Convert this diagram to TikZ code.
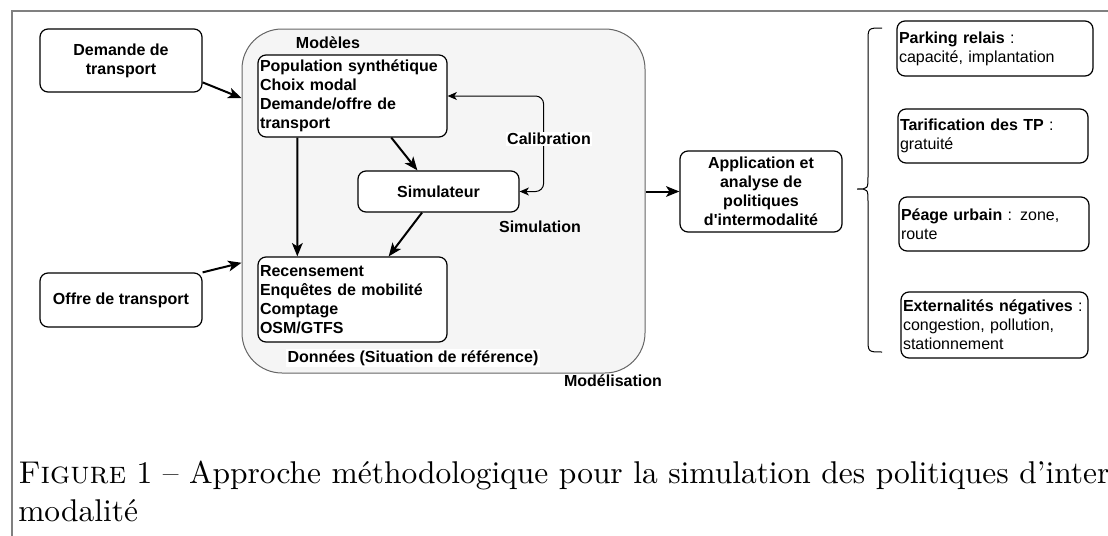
\documentclass[tikz,border=0pt]{standalone}
\usepackage{fontspec}
\usepackage{tikz}
\usetikzlibrary{arrows.meta}
\newfontfamily\drawfont{Liberation Sans}
\newfontfamily\capfont{lmroman10-regular.otf}[SmallCapsFont=lmromancaps10-regular.otf]
\definecolor{framegray}{RGB}{128,128,128}
\definecolor{panelgray}{RGB}{245,245,245}
\definecolor{edgegray}{RGB}{102,102,102}
\newcommand{\diafont}{\drawfont\fontsize{12}{14.25}\selectfont}

\begin{document}
\begin{tikzpicture}[x=0.75pt,y=-0.75pt,font=\diafont,
    box/.style={draw, fill=white, line width=0.9pt, rounded corners=6pt, inner xsep=1.5pt, inner ysep=0pt},
    leftbox/.style={box, align=left},
    midbox/.style={box, align=center, font=\diafont\bfseries},
    lbl/.style={font=\diafont\bfseries, inner sep=1pt},
    arr/.style={line width=1.5pt, -{Stealth[length=10pt,width=8pt,inset=2.5pt]}},
    calarr/.style={line width=0.75pt, rounded corners=6pt, {Stealth[length=7pt,width=6pt,inset=2pt]}-{Stealth[length=7pt,width=6pt,inset=2pt]}}]
    \useasboundingbox (0,0) rectangle (1108,536);

    % Frame
    \draw[framegray, line width=1.5pt] (12,536) -- (12,11) -- (1108,11);

    % Inputs
    \node[midbox, minimum width=121.5pt, minimum height=47.25pt] (demande) at (121,60.5) {Demande de\\transport};
    \node[midbox, minimum width=121.5pt, minimum height=40.5pt] (offre) at (121,300) {Offre de transport};

    % Modelling panel
    \node[draw=edgegray, fill=panelgray, line width=0.75pt, rounded corners=30pt,
          minimum width=302.25pt, minimum height=258pt] (modeles) at (443.5,201) {};
    \node[leftbox, font=\diafont\bfseries, text width=138.75pt, minimum height=61.5pt] (pop) at (352.5,96)
        {Population synthétique\\Choix modal\\Demande/offre de\\transport};
    \node[midbox, minimum width=120.75pt, minimum height=30.75pt] (simu) at (438.5,191.5) {Simulateur};
    \node[leftbox, font=\diafont\bfseries, text width=138.75pt, minimum height=63.75pt] (donnees) at (352.5,299.5)
        {Recensement\\Enquêtes de mobilité\\Comptage\\OSM/GTFS};

    \draw[arr] (pop.-47.5) -- (simu.135);
    \draw[arr] (pop.-143.05) -- (donnees.142.05);
    \draw[arr] (simu.-128.8) -- (donnees.50.9);
    \draw[calarr] (pop.east) -- ++(96,0) |- (simu.east);

    \node[lbl] (lbmodeles) at (328,43) {Modèles};
    \node[lbl, fill=white] (lbcalib) at (549,139) {Calibration};
    \node[lbl] (lbsimu) at (540,227) {Simulation};
    \node[lbl, fill=white] (lbdonnees) at (413,358) {Données (Situation de référence)};
    \node[lbl] (lbmodelisation) at (613,381) {Modélisation};

    \draw[arr] (demande.-15.5) -- (modeles.153.8);
    \draw[arr] (offre.north east) -- (modeles.-163.7);

    % Policies
    \node[midbox, minimum width=121.5pt, minimum height=60.75pt] (app) at (761,191.5)
        {Application et\\analyse de\\politiques\\d'intermodalité};
    \draw[arr] (modeles.east |- app.west) -- (app.west);

    \draw[line width=0.75pt] (882,28) .. controls (868,28) .. (868,42) -- (868,176)
        .. controls (868,189) .. (857,189) .. controls (868,189) .. (868,202)
        -- (868,338) .. controls (868,352) .. (882,352);

    \node[leftbox, text width=144pt, minimum height=41.25pt] (parking) at (995,48.5)
        {\textbf{Parking relais} :\\capacité, implantation};
    \node[leftbox, text width=139.5pt, minimum height=40.5pt] (tarif) at (993,136)
        {\textbf{Tarification des TP} :\\gratuité};
    \node[leftbox, text width=139.5pt, minimum height=40.5pt] (peage) at (994,224)
        {\textbf{Péage urbain} : zone,\\route};
    \node[leftbox, text width=137.25pt, minimum height=49.5pt] (extern) at (994.5,325)
        {\textbf{Externalités négatives} :\\congestion, pollution,\\stationnement};

    % Caption
    \node[anchor=base west, inner sep=0pt, font=\capfont\fontsize{23.6}{28}\selectfont] (capone) at (18,483)
        {\textsc{Figure} 1 – Approche méthodologique pour la simulation des politiques d’inter};
    \node[anchor=base west, inner sep=0pt, font=\capfont\fontsize{23.6}{28}\selectfont] (captwo) at (18,521)
        {modalité};
\end{tikzpicture}
\end{document}
